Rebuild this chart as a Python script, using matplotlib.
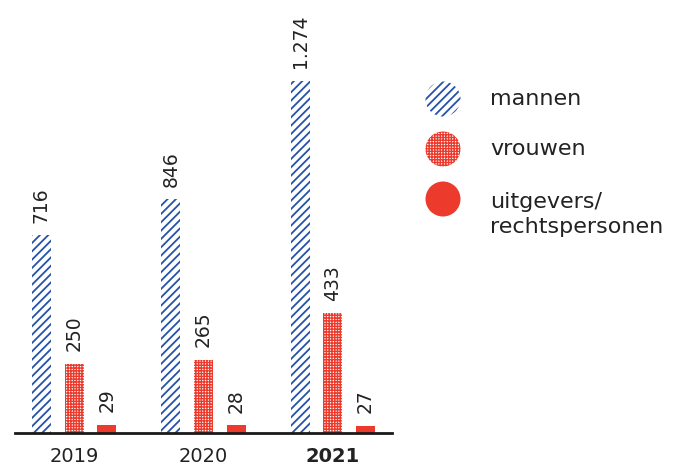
import numpy as np
import matplotlib.pyplot as plt
from matplotlib.patches import Circle

plt.rcParams['font.family'] = ['DejaVu Sans']
plt.rcParams['hatch.linewidth'] = 1.3

# data
jaren = ['2019', '2020', '2021']
mannen = [716, 846, 1274]
vrouwen = [250, 265, 433]
uitgevers = [29, 28, 27]
labels = ['mannen', 'vrouwen', 'uitgevers/\nrechtspersonen']

blauw = '#2553a8'
rood = '#ec3a2c'
tekst = '#222222'

stijlen = [
    dict(facecolor='white', edgecolor=blauw, hatch='////'),
    dict(facecolor='white', edgecolor=rood, hatch='++++++'),
    dict(facecolor=rood, edgecolor=rood, hatch=None),
]
hatch_lw = [1.3, 1.0, 1.0]


def zet_hatch_lw(p, lw):
    if hasattr(p, 'set_hatch_linewidth'):
        p.set_hatch_linewidth(lw)


fig = plt.figure(figsize=(6.74, 4.67), dpi=100)
ax = fig.add_axes([15 / 674, 34 / 467, 377 / 674, 387 / 467])

x = np.arange(len(jaren))
w = 0.147
off = 0.252

for i, (vals, st) in enumerate(zip([mannen, vrouwen, uitgevers], stijlen)):
    bars = ax.bar(x + (i - 1) * off, vals, width=w, linewidth=0, **st)
    for b, v in zip(bars, vals):
        zet_hatch_lw(b, hatch_lw[i])
        ax.annotate(f'{v:,}'.replace(',', '.'),
                    (b.get_x() + b.get_width() / 2, v),
                    xytext=(0, 9), textcoords='offset points',
                    rotation=90, ha='center', va='bottom',
                    fontsize=13.5, color=tekst)

ax.set_xlim(-0.456, 2.456)
ax.set_ylim(0, 1400)
ax.set_xticks(x)
ax.set_xticklabels(jaren, fontsize=14, color=tekst)
ax.get_xticklabels()[-1].set_fontweight('bold')
ax.tick_params(axis='x', length=0, pad=10)
ax.set_yticks([])
for s in ['top', 'right', 'left']:
    ax.spines[s].set_visible(False)
ax.spines['bottom'].set_linewidth(2)
ax.spines['bottom'].set_color('#1a1a1a')

# legenda in een eigen assenstelsel (pixelschaal, gelijke aspect)
lax = fig.add_axes([410 / 674, (467 - 250) / 467, 264 / 674, 190 / 467])
lax.set_xlim(410, 674)
lax.set_ylim(250, 60)
lax.axis('off')
for i, (lab, st) in enumerate(zip(labels, stijlen)):
    y = 99 + 50 * i
    c = Circle((443, y), 17.5, linewidth=0, **st)
    zet_hatch_lw(c, hatch_lw[i])
    lax.add_patch(c)
    if '\n' in lab:
        lax.text(490, y - 7, lab, va='top', ha='left', fontsize=16,
                 color=tekst, linespacing=1.3)
    else:
        lax.text(490, y, lab, va='center', ha='left', fontsize=16,
                 color=tekst)

fig.savefig('out.png', dpi=100)
